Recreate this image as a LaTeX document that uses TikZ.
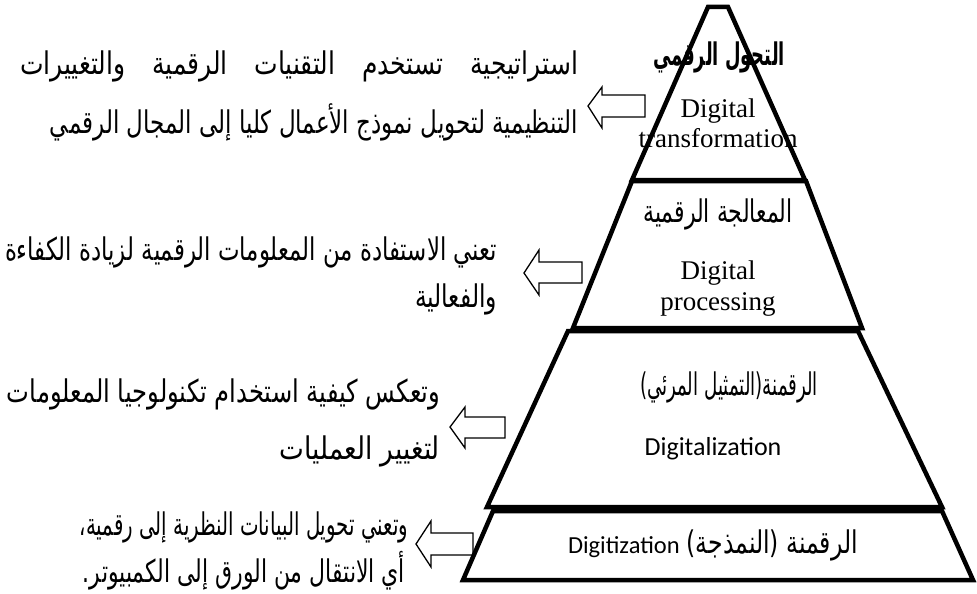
\documentclass[tikz,border=0pt]{standalone}
\usepackage{fontspec}
\usepackage{graphicx}
\TeXXeTstate=1
\newfontfamily\arabicfont[Script=Arabic]{DejaVu Sans}
\newfontfamily\timesfont{Liberation Serif}
\newfontfamily\calibfont{Carlito}
\newcommand{\arline}[2]{\resizebox{#1}{1.25\height}{\arabicfont\fontsize{25}{29}\selectfont #2}}
\newcommand{\arbold}[2]{\resizebox{#1}{1.3\height}{\arabicfont\bfseries\fontsize{24}{28}\selectfont #2}}
\begin{document}
\begin{tikzpicture}[x=1pt,y=-1pt,
  tier/.style={draw=black,line width=4.5pt,line join=miter},
  blockarrow/.style={draw=black,line width=1.3pt,fill=white,line join=miter},
  txt/.style={inner sep=0pt,outer sep=0pt}]
\useasboundingbox (0,0) rectangle (977,594);
% block arrows
\draw[blockarrow] (588,106) -- (602,87) -- (602,95) -- (645,95) -- (645,117) -- (602,117) -- (602,128) -- cycle;
\draw[blockarrow] (524,273) -- (539,250) -- (539,262) -- (582,262) -- (582,283) -- (539,283) -- (539,295) -- cycle;
\draw[blockarrow] (450,427) -- (465,407) -- (465,417) -- (505,417) -- (505,438) -- (465,438) -- (465,448) -- cycle;
\draw[blockarrow] (416,544) -- (431,521) -- (431,533) -- (473,533) -- (473,555) -- (431,555) -- (431,567) -- cycle;
% pyramid tiers
\draw[tier] (708,7) -- (728,7) -- (805,180) -- (632,180) -- cycle;
\draw[tier] (632,181) -- (806,181) -- (862,328) -- (573,328) -- cycle;
\draw[tier] (568,331) -- (858,331) -- (942,507) -- (487,507) -- cycle;
\draw[tier] (493,511) -- (942,511) -- (973,580) -- (463,580) -- cycle;
% labels inside pyramid
\node[txt] (t1ar) at (719,57) {\arbold{132pt}{\beginR التحول الرقمي\endR}};
\node[txt,anchor=base] (t1en1) at (718,117) {\timesfont\fontsize{27}{31}\selectfont Digital};
\node[txt,anchor=base] (t1en2) at (718,147) {\timesfont\fontsize{27}{31}\selectfont transformation};
\node[txt] (t2ar) at (718,214) {\arline{149pt}{\beginR المعالجة الرقمية\endR}};
\node[txt,anchor=base] (t2en1) at (718,279) {\timesfont\fontsize{27}{31}\selectfont Digital};
\node[txt,anchor=base] (t2en2) at (718,310) {\timesfont\fontsize{27}{31}\selectfont processing};
\node[txt] (t3ar) at (729,387) {\arline{178pt}{\beginR الرقمنة(التمثيل المرئي)\endR}};
\node[txt] (t3en) at (713,449) {\calibfont\fontsize{26}{30}\selectfont Digitalization};
\node[txt,anchor=west] (t4) at (568,545) {\calibfont\fontsize{24.5}{28}\selectfont Digitization\hspace{7pt}\arline{171pt}{\beginR الرقمنة (النمذجة)\endR}};
% descriptions
\node[txt,anchor=east] (d1a) at (578,66) {\resizebox{558pt}{1.25\height}{\hbox to 558pt{\arabicfont\fontsize{25}{29}\selectfont\beginR استراتيجية\hfill تستخدم\hfill التقنيات\hfill الرقمية\hfill والتغييرات\endR}}};
\node[txt,anchor=east] (d1b) at (578,122) {\arline{528pt}{\beginR التنظيمية لتحويل نموذج الأعمال كليا إلى المجال الرقمي\endR}};
\node[txt,anchor=east] (d2a) at (497,252) {\arline{492pt}{\beginR تعني الاستفادة من المعلومات الرقمية لزيادة الكفاءة\endR}};
\node[txt,anchor=east] (d2b) at (497,299) {\arline{82pt}{\beginR والفعالية\endR}};
\node[txt,anchor=east] (d3a) at (440,394) {\arline{433pt}{\beginR وتعكس كيفية استخدام تكنولوجيا المعلومات\endR}};
\node[txt,anchor=east] (d3b) at (440,451) {\arline{160pt}{\beginR لتغيير العمليات\endR}};
\node[txt,anchor=east] (d4a) at (408,527) {\arline{328pt}{\beginR وتعني تحويل البيانات النظرية إلى رقمية،\endR}};
\node[txt,anchor=east] (d4b) at (405,571) {\arline{322pt}{\beginR أي الانتقال من الورق إلى الكمبيوتر.\endR}};
\end{tikzpicture}
\end{document}
